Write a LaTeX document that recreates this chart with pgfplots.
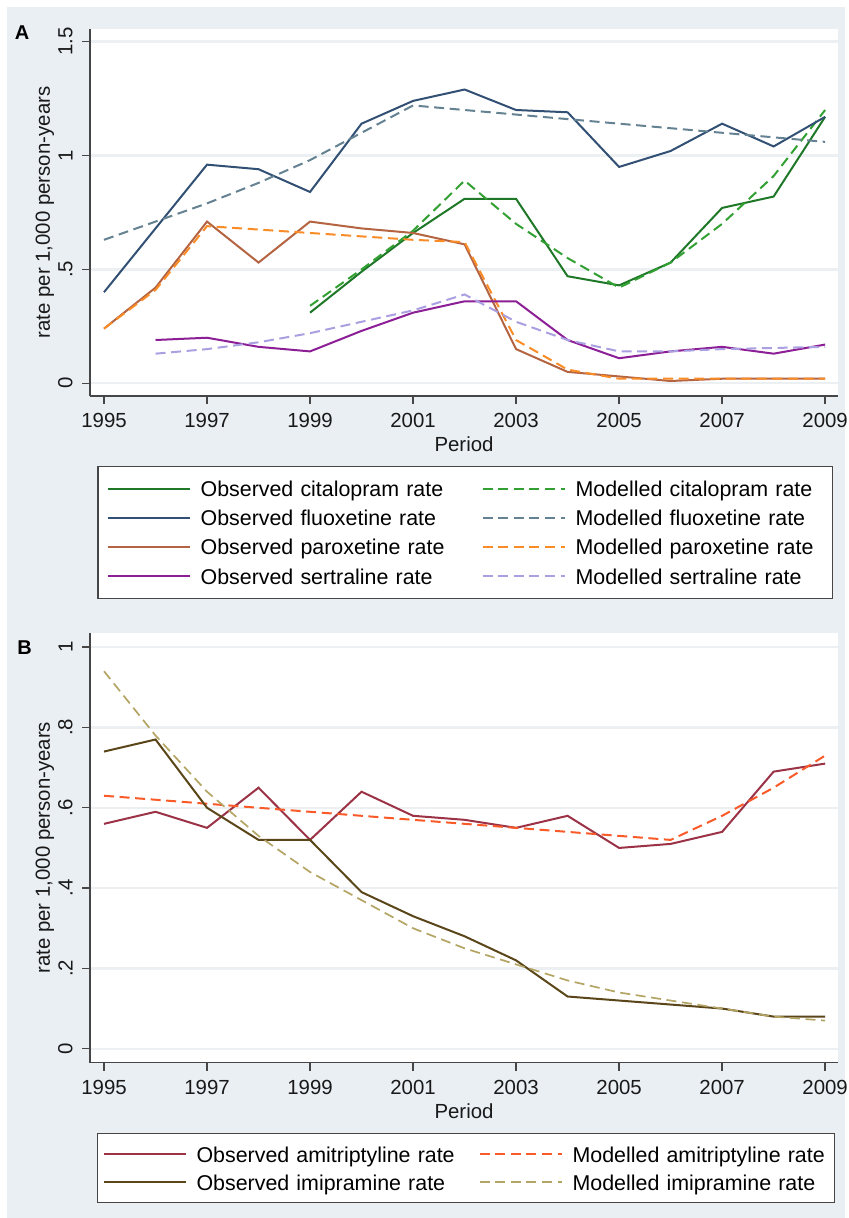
\documentclass[border=0pt]{standalone}
\usepackage{pgfplots}
\usepackage{pgfplotstable}
\pgfplotsset{compat=1.18}
\usepackage{fontspec}
\setmainfont{Liberation Sans}
\definecolor{bg}{RGB}{234,239,244}
\definecolor{gridc}{RGB}{236,240,242}
\definecolor{axc}{RGB}{70,70,70}
\definecolor{citO}{RGB}{30,120,40}
\definecolor{citM}{RGB}{50,160,50}
\definecolor{fluO}{RGB}{50,80,115}
\definecolor{fluM}{RGB}{100,130,145}
\definecolor{parO}{RGB}{180,100,65}
\definecolor{parM}{RGB}{250,140,40}
\definecolor{serO}{RGB}{140,30,150}
\definecolor{serM}{RGB}{170,160,225}
\definecolor{amiO}{RGB}{155,50,70}
\definecolor{amiM}{RGB}{250,90,40}
\definecolor{imiO}{RGB}{90,70,25}
\definecolor{imiM}{RGB}{180,165,100}

\pgfplotstableread{
year citO citM fluO fluM parO parM serO serM
1995 nan nan 0.40 0.63 0.24 0.24 nan nan
1996 nan nan 0.68 0.71 0.42 0.41 0.19 0.13
1997 nan nan 0.96 0.79 0.71 0.69 0.20 0.15
1998 nan nan 0.94 0.88 0.53 0.675 0.16 0.18
1999 0.31 0.34 0.84 0.98 0.71 0.66 0.14 0.22
2000 0.49 0.50 1.14 1.10 0.68 0.645 0.23 0.27
2001 0.66 0.67 1.24 1.22 0.66 0.63 0.31 0.32
2002 0.81 0.89 1.29 1.20 0.61 0.62 0.36 0.39
2003 0.81 0.70 1.20 1.18 0.15 0.19 0.36 0.27
2004 0.47 0.55 1.19 1.16 0.05 0.06 0.19 0.19
2005 0.43 0.42 0.95 1.14 0.03 0.02 0.11 0.14
2006 0.53 0.53 1.02 1.12 0.01 0.02 0.14 0.14
2007 0.77 0.70 1.14 1.10 0.02 0.02 0.16 0.15
2008 0.82 0.91 1.04 1.08 0.02 0.02 0.13 0.155
2009 1.17 1.20 1.17 1.06 0.02 0.02 0.17 0.16
}\tabA

\pgfplotstableread{
year amiO amiM imiO imiM
1995 0.56 0.63 0.74 0.94
1996 0.59 0.62 0.77 0.78
1997 0.55 0.61 0.60 0.64
1998 0.65 0.60 0.52 0.53
1999 0.52 0.59 0.52 0.44
2000 0.64 0.58 0.39 0.37
2001 0.58 0.57 0.33 0.30
2002 0.57 0.56 0.28 0.25
2003 0.55 0.55 0.22 0.21
2004 0.58 0.54 0.13 0.17
2005 0.50 0.53 0.12 0.14
2006 0.51 0.52 0.11 0.12
2007 0.54 0.58 0.10 0.10
2008 0.69 0.65 0.08 0.08
2009 0.71 0.73 0.08 0.07
}\tabB

\pgfplotsset{
  stata/.style={
    scale only axis, width=374pt, clip mode=individual,
    axis lines=left, axis line style={-, color=axc, line width=0.7pt},
    tick align=outside, major tick length=4pt,
    tick style={color=axc, line width=0.7pt},
    xmin=1994.728, xmax=2009.25,
    xtick={1995,1997,...,2009},
    xticklabels={1995,1997,1999,2001,2003,2005,2007,2009},
    ymajorgrids, major grid style={color=gridc, line width=1.2pt},
    axis background/.style={fill=white},
    ticklabel style={font=\fontsize{10.2}{12}\selectfont, text=black!90},
    yticklabel style={rotate=90, anchor=south, inner sep=0pt, inner ysep=4.5pt},
    xticklabel style={anchor=north, inner sep=0pt, inner ysep=4.5pt},
    label style={font=\fontsize{10.2}{12}\selectfont, text=black!90},
    ylabel={rate per 1,000 person-years},
    xlabel={Period},
    ylabel style={at={(axis description cs:-0.0602,0.5)}, anchor=center},
    legend columns=2,
    legend cell align=left,
    legend image code/.code={\draw[#1] (0pt,0pt) -- (41pt,0pt);},
    legend style={draw=axc, line width=0.6pt, fill=white,
      font=\fontsize{10.7}{12}\selectfont, anchor=north west,
      /tikz/every odd column/.append style={column sep=5pt}},
    obs/.style={line width=1pt, solid},
    mod/.style={line width=1pt, dash pattern=on 5pt off 2.8pt},
  }
}

\begin{document}
\begin{tikzpicture}
\useasboundingbox (0,0) rectangle (424.5pt,609pt);
\fill[white] (0,0) rectangle (424.5pt,609pt);
\fill[bg] (3.5pt,0pt) rectangle (422.5pt,605.5pt);

% Panel A
\begin{axis}[stata,
  at={(45pt,411pt)}, anchor=south west, height=183.5pt,
  ymin=-0.0558, ymax=1.5558,
  ytick={0,0.5,1,1.5}, yticklabels={0,.5,1,1.5},
  xlabel style={at={(axis description cs:0.5,-0.131)}, anchor=center},
  legend style={at={(axis description cs:0.00976,-0.19074)},
    nodes={inner xsep=0pt, inner ysep=0pt, text height=9.5pt, text depth=1.5pt},
    inner xsep=4.35pt, inner ysep=5.5pt, row sep=3.6pt,
    /tikz/column 2/.append style={text width=140.5pt},
    /tikz/column 4/.append style={text width=124pt}},
]
\addplot[obs, color=citO] table[x=year, y=citO] {\tabA};
\addlegendentry{Observed citalopram rate}
\addplot[mod, color=citM] table[x=year, y=citM] {\tabA};
\addlegendentry{Modelled citalopram rate}
\addplot[obs, color=fluO] table[x=year, y=fluO] {\tabA};
\addlegendentry{Observed fluoxetine rate}
\addplot[mod, color=fluM] table[x=year, y=fluM] {\tabA};
\addlegendentry{Modelled fluoxetine rate}
\addplot[obs, color=parO] table[x=year, y=parO] {\tabA};
\addlegendentry{Observed paroxetine rate}
\addplot[mod, color=parM] table[x=year, y=parM] {\tabA};
\addlegendentry{Modelled paroxetine rate}
\addplot[obs, color=serO] table[x=year, y=serO] {\tabA};
\addlegendentry{Observed sertraline rate}
\addplot[mod, color=serM] table[x=year, y=serM] {\tabA};
\addlegendentry{Modelled sertraline rate}
\node[font=\bfseries\fontsize{10}{12}\selectfont] at (axis description cs:-0.0909,0.989) {A};
\end{axis}

% Panel B
\begin{axis}[stata,
  at={(45pt,77.65pt)}, anchor=south west, height=215pt,
  ymin=-0.0348, ymax=1.036,
  ytick={0,0.2,0.4,0.6,0.8,1}, yticklabels={0,.2,.4,.6,.8,1},
  xlabel style={at={(axis description cs:0.5,-0.112)}, anchor=center},
  legend style={at={(axis description cs:0.00936,-0.1628)},
    nodes={inner xsep=0pt, inner ysep=0pt, text height=9.6pt, text depth=1.4pt},
    inner xsep=2.5pt, inner ysep=4.75pt, row sep=3pt,
    /tikz/column 2/.append style={text width=141pt},
    /tikz/column 3/.append style={column sep=3pt},
    /tikz/column 4/.append style={text width=128.5pt}},
]
\addplot[obs, color=amiO] table[x=year, y=amiO] {\tabB};
\addlegendentry{Observed amitriptyline rate}
\addplot[mod, color=amiM] table[x=year, y=amiM] {\tabB};
\addlegendentry{\mbox{Modelled amitriptyline rate}}
\addplot[obs, color=imiO] table[x=year, y=imiO] {\tabB};
\addlegendentry{Observed imipramine rate}
\addplot[mod, color=imiM, line width=0.85pt] table[x=year, y=imiM] {\tabB};
\addlegendentry{Modelled imipramine rate}
\node[font=\bfseries\fontsize{10}{12}\selectfont] at (axis description cs:-0.0876,0.9656) {B};
\end{axis}
\end{tikzpicture}
\end{document}
